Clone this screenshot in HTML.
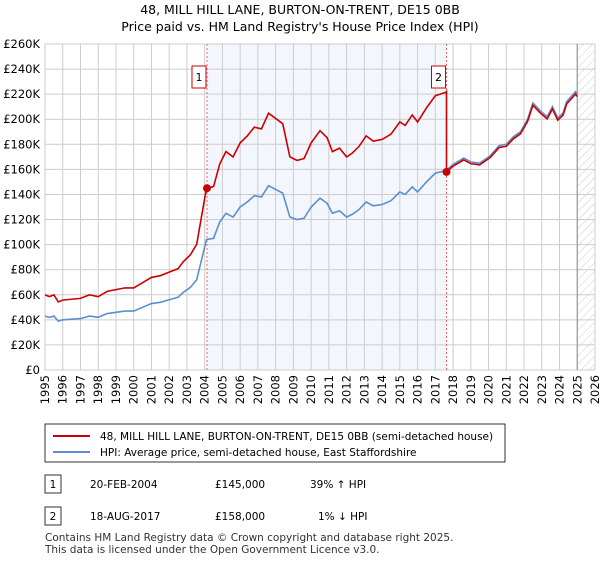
<!DOCTYPE html>
<html><head><meta charset="utf-8"><style>
body{margin:0;background:#fff;font-family:"Liberation Sans",sans-serif;}
svg text{font-family:"DejaVu Sans","Liberation Sans",sans-serif;}
</style></head><body>
<svg width="600" height="560" xmlns="http://www.w3.org/2000/svg">
<defs><pattern id="hatch" width="6" height="6" patternUnits="userSpaceOnUse" patternTransform="rotate(45)"><line x1="0" y1="0" x2="0" y2="6" stroke="#ccc" stroke-width="1"/></pattern></defs>
<text x="300" y="14" text-anchor="middle" font-size="12.5">48, MILL HILL LANE, BURTON-ON-TRENT, DE15 0BB</text>
<text x="300" y="31" text-anchor="middle" font-size="12.5">Price paid vs. HM Land Registry's House Price Index (HPI)</text>
<g id="plot"></g>
<g id="legend">
<rect x="45" y="424" width="460" height="38" fill="#fff" stroke="#000" stroke-width="0.8"/>
<line x1="53" y1="436" x2="90" y2="436" stroke="#cc0000" stroke-width="2"/>
<text x="100" y="440" font-size="10.5">48, MILL HILL LANE, BURTON-ON-TRENT, DE15 0BB (semi-detached house)</text>
<line x1="53" y1="452" x2="90" y2="452" stroke="#5b8fd0" stroke-width="2"/>
<text x="100" y="456" font-size="10.5">HPI: Average price, semi-detached house, East Staffordshire</text>
</g>
<g font-size="10.5">
<rect x="45" y="475" width="16" height="18" fill="#fff" stroke="#000" stroke-width="0.8"/><text x="53" y="488" text-anchor="middle">1</text>
<text x="90" y="488">20-FEB-2004</text><text x="215" y="488">£145,000</text><text x="310" y="488">39% ↑ HPI</text>
<rect x="45" y="507" width="16" height="18" fill="#fff" stroke="#000" stroke-width="0.8"/><text x="53" y="520" text-anchor="middle">2</text>
<text x="90" y="520">18-AUG-2017</text><text x="215" y="520">£158,000</text><text x="318" y="520">1% ↓ HPI</text>
</g>
<text x="45" y="541" font-size="10.5" fill="#333">Contains HM Land Registry data © Crown copyright and database right 2025.</text>
<text x="45" y="553" font-size="10.5" fill="#333">This data is licensed under the Open Government Licence v3.0.</text>
</svg>
<script>
const hpiYears=[1995,1995.25,1995.5,1995.75,1996,1996.5,1997,1997.5,1998,1998.5,1999,1999.5,2000,2000.5,2001,2001.5,2002,2002.5,2002.8,2003.2,2003.55,2004.1,2004.5,2004.85,2005.2,2005.6,2006,2006.4,2006.8,2007.2,2007.6,2008,2008.4,2008.8,2009.2,2009.6,2010,2010.5,2010.9,2011.2,2011.6,2012,2012.3,2012.7,2013.1,2013.5,2014,2014.5,2015,2015.3,2015.7,2016,2016.5,2017,2017.6,2018,2018.6,2019,2019.5,2020.1,2020.6,2021,2021.4,2021.8,2022.2,2022.5,2022.9,2023.3,2023.6,2023.9,2024.2,2024.4,2024.9,2025];
const hpiValues=[43,42,43,39,40,40.5,41,43,42,45,46,47,47,50,53,54,56,58,62,66,72,104,105,118,125,122,130,134,139,138,147,144,141,122,120,121,130,137,133,125,127,122,124,128,134,131,132,135,142,140,146,142,150,157,159,164,169,166,165,171,179,180,186,190,200,213,207,202,210,201,205,214,222,220];
const sale1Year=2004.13, sale1Price=145;
const sale2Year=2017.63, sale2Price=158;
const yTicks=[0,20,40,60,80,100,120,140,160,180,200,220,240,260];
const xTickYears=[1995,1996,1997,1998,1999,2000,2001,2002,2003,2004,2005,2006,2007,2008,2009,2010,2011,2012,2013,2014,2015,2016,2017,2018,2019,2020,2021,2022,2023,2024,2025,2026];
const dataEnd=2025.0;
const X0=45,X1=595,Y0=370,Y1=44;
const xs=y=>X0+(y-1995)/31*(X1-X0);
const ys=v=>Y0-v/260*(Y0-Y1);
const NS='http://www.w3.org/2000/svg';
const g=document.getElementById('plot');
function mk(t,a,p){const e=document.createElementNS(NS,t);for(const k in a)e.setAttribute(k,a[k]);(p||g).appendChild(e);return e;}
let r=mk('rect',{x:xs(sale1Year),y:Y1,width:xs(sale2Year)-xs(sale1Year),height:Y0-Y1,fill:'#eef2fc',opacity:0.7});


r=mk('rect',{x:xs(dataEnd),y:Y1,width:X1-xs(dataEnd),height:Y0-Y1,fill:'url(#hatch)'});


yTicks.forEach(v=>{
 let l=mk('line',{x1:X0,x2:X1,y1:ys(v),y2:ys(v),stroke:'#ccc','stroke-width':1});
 
 
 let t=mk('text',{x:X0-5,y:ys(v)+4,'text-anchor':'end','font-size':'11.5'});
 t.textContent=v===0?'£0':'£'+v+'K';
 
 
});
xTickYears.forEach(y=>{
 let l=mk('line',{x1:xs(y),x2:xs(y),y1:Y1,y2:Y0,stroke:'#ccc','stroke-width':1});
 
 
 let tx=xs(y)+4, ty=Y0+5;
 let t=mk('text',{x:tx,y:ty,'text-anchor':'end','font-size':'11.5',transform:'rotate(-90 '+tx+' '+ty+')'});
 t.textContent=y;
 
 
});
let b=mk('rect',{x:X0,y:Y1,width:X1-X0,height:Y0-Y1,fill:'none',stroke:'#ccc'});


let el=mk('line',{x1:xs(dataEnd),x2:xs(dataEnd),y1:Y1,y2:Y0,stroke:'#999','stroke-width':1.2});


[[sale1Year,'1'],[sale2Year,'2']].forEach(([yr,lab])=>{
 let l=mk('line',{x1:xs(yr),x2:xs(yr),y1:Y1,y2:Y0,stroke:'#e66','stroke-width':1,'stroke-dasharray':'2,2'});
 
 
 let bx=mk('rect',{x:xs(yr)-11-4,y:66,width:14,height:22,fill:'#fff',stroke:'#c00'});
 
 
 let t=mk('text',{x:xs(yr)-8,y:81,'text-anchor':'middle','font-size':'11'});
 t.textContent=lab;
 
 
});
function hpiAt(y){for(let i=0;i<hpiYears.length-1;i++){if(y<=hpiYears[i+1]){const f=(y-hpiYears[i])/(hpiYears[i+1]-hpiYears[i]);return hpiValues[i]+f*(hpiValues[i+1]-hpiValues[i]);}}return hpiValues[hpiValues.length-1];}
const r1=sale1Price/hpiAt(sale1Year), r2=sale2Price/hpiAt(sale2Year);
let hp=hpiYears.map((y,i)=>xs(y)+','+ys(hpiValues[i])).join(' ');
let hl=mk('polyline',{points:hp,fill:'none',stroke:'#5b8fd0','stroke-width':1.6});


let pts=[];
hpiYears.forEach((y,i)=>{
 if(y<sale2Year){pts.push(xs(y)+','+ys(hpiValues[i]*r1));}
});
pts.push(xs(sale2Year)+','+ys(hpiAt(sale2Year)*r1));
pts.push(xs(sale2Year)+','+ys(sale2Price));
hpiYears.forEach((y,i)=>{if(y>sale2Year)pts.push(xs(y)+','+ys(hpiValues[i]*r2));});
let pl=mk('polyline',{points:pts.join(' '),fill:'none',stroke:'#cc0000','stroke-width':1.6});


[[sale1Year,sale1Price,'1'],[sale2Year,sale2Price,'2']].forEach(([yr,v,lab])=>{
 let c=mk('circle',{cx:xs(yr),cy:ys(v),r:4,fill:'#cc0000'});
 
 
});
</script>
</body></html>
